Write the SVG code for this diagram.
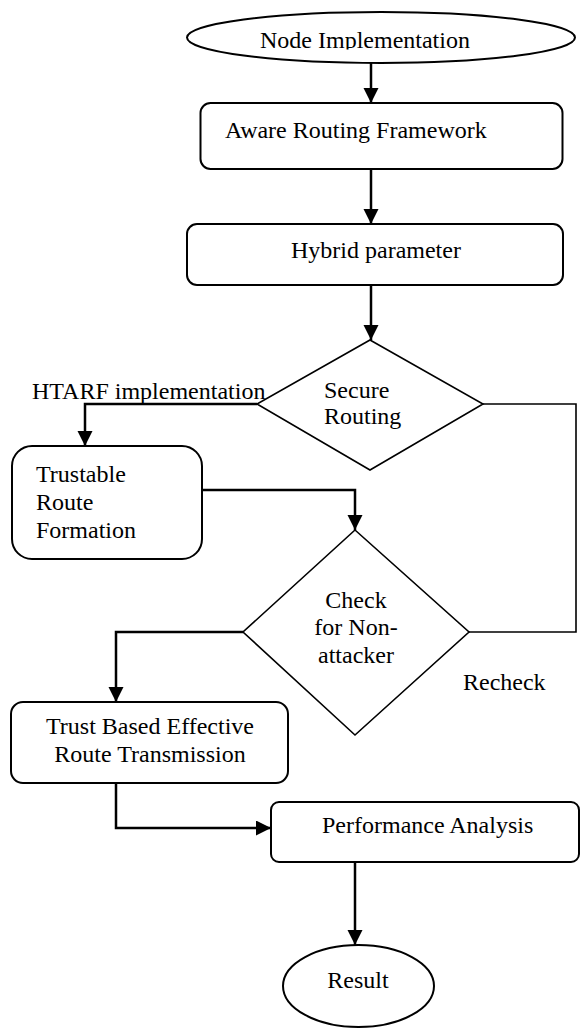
<svg xmlns="http://www.w3.org/2000/svg" width="581" height="1030" viewBox="0 0 581 1030">
<style>
text{font-family:"Liberation Serif","Times New Roman",serif;font-size:24px;fill:#000}
.box{fill:#fff;stroke:#000;stroke-width:2}
.dia{fill:#fff;stroke:#000;stroke-width:1.6}
.arr{fill:none;stroke:#000;stroke-width:2.5;marker-end:url(#ah)}
.ln{fill:none;stroke:#000;stroke-width:1.6}
</style>
<defs>
<marker id="ah" markerUnits="userSpaceOnUse" markerWidth="16" markerHeight="16" refX="15" refY="7.5" orient="auto">
<path d="M0,0 L15,7.5 L0,15 Z" fill="#000"/>
</marker>
<clipPath id="c1"><rect x="180" y="0" width="400" height="49.5"/></clipPath>
</defs>
<rect width="581" height="1030" fill="#fff"/>
<g id="connectors">
<path class="arr" d="M371,63 V103"/>
<path class="arr" d="M371,169 V224"/>
<path class="arr" d="M371,285 V340"/>
<path class="arr" d="M257,404 H85 V446"/>
<path class="arr" d="M202,490 H355 V530"/>
<path class="ln" d="M483,404 H576 V632 H469"/>
<path class="arr" d="M243,632 H116 V702"/>
<path class="arr" d="M116,783 V828 H271"/>
<path class="arr" d="M355,862 V945"/>
</g>
<g id="n1">
<ellipse class="box" cx="381" cy="37.5" rx="194" ry="25.5"/>
<text x="260" y="48" clip-path="url(#c1)">Node Implementation</text>
</g>
<g id="n2">
<rect class="box" x="200.5" y="103" width="362" height="66" rx="10"/>
<text x="225" y="138">Aware Routing Framework</text>
</g>
<g id="n3">
<rect class="box" x="187" y="224" width="376" height="61" rx="10"/>
<text x="291" y="258">Hybrid parameter</text>
</g>
<g id="n4">
<polygon class="dia" points="370,340 483,404 370,470 257,404"/>
<text x="324" y="398">Secure</text>
<text x="324" y="424">Routing</text>
</g>
<g id="l1">
<text x="32" y="399">HTARF implementation</text>
</g>
<g id="n5">
<rect class="box" x="12" y="446" width="190" height="113" rx="20"/>
<text x="36" y="482">Trustable</text>
<text x="36" y="510">Route</text>
<text x="36" y="538">Formation</text>
</g>
<g id="n6">
<polygon class="dia" points="355,530 469,632 355,735 243,632"/>
<text x="356" y="608" text-anchor="middle">Check</text>
<text x="356" y="635" text-anchor="middle">for Non-</text>
<text x="356" y="663" text-anchor="middle">attacker</text>
</g>
<g id="l2">
<text x="463" y="690">Recheck</text>
</g>
<g id="n7">
<rect class="box" x="11" y="702" width="277" height="81" rx="12"/>
<text x="150" y="734" text-anchor="middle">Trust Based Effective</text>
<text x="150" y="762" text-anchor="middle">Route Transmission</text>
</g>
<g id="n8">
<rect class="box" x="271" y="802" width="308" height="60" rx="8"/>
<text x="322" y="833">Performance Analysis</text>
</g>
<g id="n9">
<ellipse class="box" cx="358.5" cy="986" rx="75.5" ry="41"/>
<text x="358" y="988" text-anchor="middle">Result</text>
</g>
</svg>
